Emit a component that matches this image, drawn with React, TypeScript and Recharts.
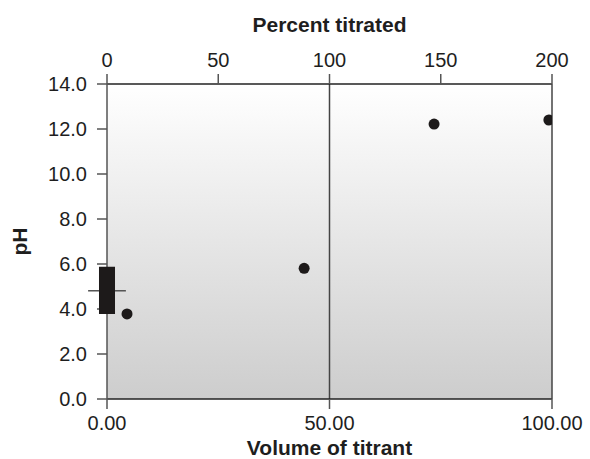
import {
  ComposedChart,
  Scatter,
  XAxis,
  YAxis,
  CartesianGrid,
  ReferenceLine,
  ReferenceArea,
} from "recharts";

// titration points
const volume = [4.5, 44.3, 73.5, 99.3];
const percentTitrated = [9, 88.6, 147, 198.6];
const pH = [3.78, 5.81, 12.22, 12.4];

// box marker drawn at volume 0
const boxLow = 3.78;
const boxHigh = 5.88;
const boxMid = 4.81;
const boxHalf = 1.8;
const whiskerHalf = 4.25;

const volumeTicks = [0, 50, 100];
const percentTicks = [0, 50, 100, 150, 200];
const pHTicks = [0, 2, 4, 6, 8, 10, 12, 14];
const equivalenceVolume = 50;

const points = volume.map((v, i) => ({ v, pct: percentTitrated[i], pH: pH[i] }));

const font = "'Liberation Sans', Arial, Helvetica, sans-serif";
const tickStyle = { fontSize: 20, fill: "#1e1e1e", fontFamily: font };
const titleStyle = {
  fontSize: 21,
  fontWeight: 700,
  fill: "#1e1e1e",
  fontFamily: font,
};

const Dot = (p: any) => <circle cx={p.cx} cy={p.cy} r={5.5} fill="#1d1a1a" />;
// the same points against the top/right axes, only so those axes get drawn
const NoDot = () => <g />;

export default function App() {
  return (
    <div style={{ position: "absolute", left: 0, top: 0 }}>
      <ComposedChart
        width={590}
        height={459}
        margin={{ top: 0, right: 0, bottom: 0, left: 0 }}
      >
        <defs>
          <linearGradient id="bg" x1="0" y1="0" x2="0" y2="1">
            <stop offset="0%" stopColor="#ffffff" />
            <stop offset="100%" stopColor="#cdcdcd" />
          </linearGradient>
        </defs>
        <CartesianGrid
          horizontal={false}
          vertical={false}
          fill="url(#bg)"
          fillOpacity={1}
          xAxisId="bottom"
          yAxisId="left"
        />
        <XAxis
          xAxisId="bottom"
          type="number"
          dataKey="v"
          domain={[0, 100]}
          ticks={volumeTicks}
          allowDataOverflow
          height={60}
          tickSize={10}
          tickMargin={7}
          tick={tickStyle}
          tickFormatter={(t: number) => t.toFixed(2)}
          axisLine={{ stroke: "#222", strokeWidth: 1.5 }}
          tickLine={{ stroke: "#555", strokeWidth: 1.5 }}
          label={{
            value: "Volume of titrant",
            position: "insideBottom",
            offset: 4,
            style: titleStyle,
          }}
        />
        <XAxis
          xAxisId="top"
          orientation="top"
          type="number"
          dataKey="pct"
          domain={[0, 200]}
          ticks={percentTicks}
          allowDataOverflow
          height={84}
          tickSize={10}
          tickMargin={7}
          tick={tickStyle}
          axisLine={{ stroke: "#222", strokeWidth: 1.5 }}
          tickLine={{ stroke: "#555", strokeWidth: 1.5 }}
          label={{
            value: "Percent titrated",
            position: "insideTop",
            offset: 17,
            style: titleStyle,
          }}
        />
        <YAxis
          yAxisId="left"
          type="number"
          dataKey="pH"
          domain={[0, 14]}
          ticks={pHTicks}
          allowDataOverflow
          width={107}
          tickSize={10}
          tickMargin={10}
          tick={tickStyle}
          tickFormatter={(t: number) => t.toFixed(1)}
          axisLine={{ stroke: "#555", strokeWidth: 1.5 }}
          tickLine={{ stroke: "#555", strokeWidth: 1.5 }}
          label={{
            value: "pH",
            angle: -90,
            position: "insideLeft",
            offset: 20,
            style: { ...titleStyle, textAnchor: "middle" },
          }}
        />
        <YAxis
          yAxisId="right"
          orientation="right"
          type="number"
          dataKey="pH"
          domain={[0, 14]}
          allowDataOverflow
          width={38}
          tick={false}
          tickLine={false}
          axisLine={{ stroke: "#444", strokeWidth: 1.5 }}
        />
        <ReferenceLine
          xAxisId="bottom"
          yAxisId="left"
          x={equivalenceVolume}
          stroke="#444"
          strokeWidth={1.5}
        />
        <ReferenceLine
          xAxisId="bottom"
          yAxisId="left"
          segment={[
            { x: -whiskerHalf, y: boxMid },
            { x: -boxHalf, y: boxMid },
          ]}
          ifOverflow="visible"
          stroke="#555"
          strokeWidth={1.5}
        />
        <ReferenceLine
          xAxisId="bottom"
          yAxisId="left"
          segment={[
            { x: boxHalf, y: boxMid },
            { x: whiskerHalf, y: boxMid },
          ]}
          ifOverflow="visible"
          stroke="#555"
          strokeWidth={1.5}
        />
        <ReferenceArea
          xAxisId="bottom"
          yAxisId="left"
          x1={-boxHalf}
          x2={boxHalf}
          y1={boxLow}
          y2={boxHigh}
          ifOverflow="visible"
          fill="#1d1a1a"
          fillOpacity={1}
          stroke="none"
          zIndex={550}
        />
        <Scatter
          xAxisId="top"
          yAxisId="right"
          data={points}
          dataKey="pH"
          shape={NoDot}
          isAnimationActive={false}
        />
        <Scatter
          xAxisId="bottom"
          yAxisId="left"
          data={points}
          dataKey="pH"
          shape={Dot}
          isAnimationActive={false}
        />
      </ComposedChart>
    </div>
  );
}
